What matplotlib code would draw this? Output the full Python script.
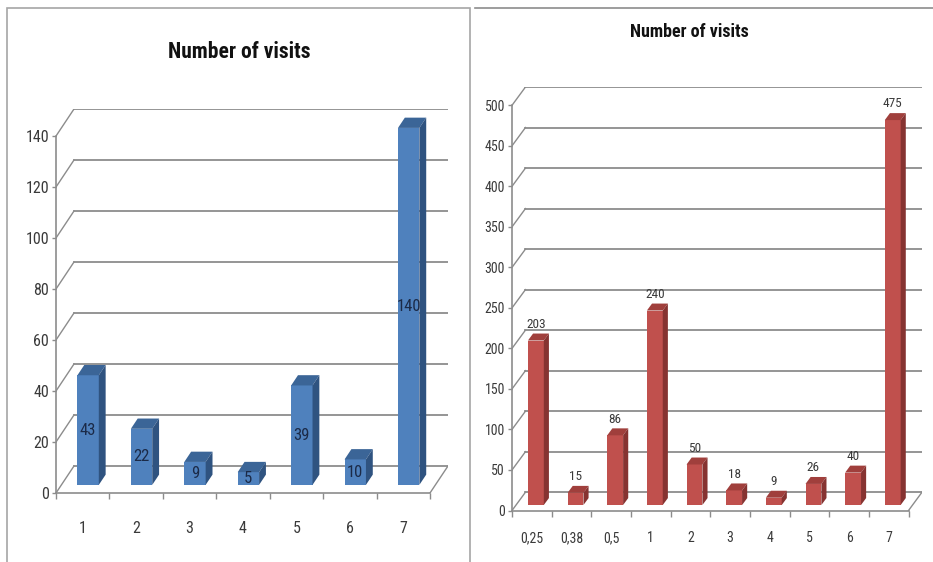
import numpy as np
import matplotlib
matplotlib.use("Agg")
import matplotlib.pyplot as plt
from matplotlib import font_manager as fm
from matplotlib.patches import Polygon, Rectangle
from matplotlib.lines import Line2D

W, H = 933, 562

# data
left_categories = ["1", "2", "3", "4", "5", "6", "7"]
left_values = [43, 22, 9, 5, 39, 10, 140]
left_yticks = [0, 20, 40, 60, 80, 100, 120, 140]

right_categories = ["0,25", "0,38", "0,5", "1", "2", "3", "4", "5", "6", "7"]
right_values = [203, 15, 86, 240, 50, 18, 9, 26, 40, 475]
right_yticks = [0, 50, 100, 150, 200, 250, 300, 350, 400, 450, 500]

# the original uses a narrow (Calibri-like) face; take a condensed one if present
fonts = fm.fontManager.ttflist
avail = {f.name for f in fonts}
STRETCH = "normal"
narrow = None
for name in ["Liberation Sans Narrow", "Roboto Condensed", "Open Sans Condensed",
             "Noto Sans Condensed", "Arial Narrow"]:
    if name in avail:
        narrow = name
        break
if narrow is None:
    for f in fonts:
        if f.stretch in ("condensed", "semi-condensed", "extra-condensed"):
            narrow = f.name
            STRETCH = f.stretch
            break
if narrow is None:
    narrow = "Liberation Sans"
plt.rcParams["font.family"] = [narrow, "DejaVu Sans"]
plt.rcParams["font.stretch"] = STRETCH
k = 1.0 if narrow != "Liberation Sans" else 0.85

GRID = "#8c8c8c"
TXT = "#3a3a3a"


def px_box(x0, y0, x1, y1):
    # pixel box (origin top-left) -> figure fraction [l, b, w, h]
    return [x0 / W, 1 - y1 / H, (x1 - x0) / W, (y1 - y0) / H]


def columns_3d(ax, labels, values, yticks, depth, colors, fs, xpad, inside):
    n = len(values)
    dx, dy = depth
    x = np.arange(n)
    ymax = yticks[-1]
    ax.set_xlim(-0.5, n - 0.5 + dx)
    ax.set_ylim(0, ymax + dy)

    # back wall + side wall lines
    for v in yticks:
        ax.plot([-0.5 + dx, n - 0.5 + dx], [v + dy, v + dy], color=GRID, lw=1.3, zorder=1)
        ax.plot([-0.5, -0.5 + dx], [v, v + dy], color=GRID, lw=1.0, zorder=1)
    ax.plot([n - 0.5, n - 0.5 + dx], [0, dy], color=GRID, lw=1.0, zorder=1)

    # columns: front face + top + side
    face, side, top = colors
    f0, bd, w = 0.3, 0.38, 0.4
    xc = x + f0 * dx
    base = f0 * dy
    ax.bar(xc, values, width=w, bottom=base, color=face, zorder=3)
    for xi, v in zip(xc, values):
        xl, xr, t = xi - w / 2, xi + w / 2, base + v
        ax.add_patch(Polygon([(xl, t), (xr, t), (xr + bd * dx, t + bd * dy),
                              (xl + bd * dx, t + bd * dy)],
                             facecolor=top, edgecolor="none", zorder=3))
        ax.add_patch(Polygon([(xr, base), (xr, t), (xr + bd * dx, t + bd * dy),
                              (xr + bd * dx, base + bd * dy)],
                             facecolor=side, edgecolor="none", zorder=3))
        if inside:
            ax.text(xi, base + v / 2, str(v), ha="center", va="center",
                    fontsize=fs + 0.5, color="#1b2a47", zorder=4)
        else:
            ax.annotate(str(v), (xi, t + bd * dy), xytext=(0, 2),
                        textcoords="offset points", ha="center", va="bottom",
                        fontsize=fs - 0.5, color=TXT, zorder=4)

    for s in ["top", "right"]:
        ax.spines[s].set_visible(False)
    ax.spines["left"].set_bounds(0, ymax)
    ax.spines["bottom"].set_bounds(-0.5, n - 0.5)
    for s in ["left", "bottom"]:
        ax.spines[s].set_color(GRID)
        ax.spines[s].set_linewidth(1.2)

    ax.set_yticks(yticks)
    ax.set_yticklabels([str(v) for v in yticks])
    ax.tick_params(axis="y", direction="out", length=3, width=1, color=GRID,
                   labelcolor=TXT, labelsize=fs, pad=2)
    ax.set_xticks(x)
    ax.set_xticklabels(labels)
    ax.set_xticks(np.arange(n + 1) - 0.5, minor=True)
    ax.tick_params(axis="x", which="major", length=0, pad=xpad,
                   labelcolor=TXT, labelsize=fs)
    ax.tick_params(axis="x", which="minor", direction="out", length=4.5,
                   width=1, color=GRID)
    ax.set_facecolor("none")


fig = plt.figure(figsize=(W / 100, H / 100), dpi=100)

ax1 = fig.add_axes(px_box(56, 109, 448, 493))
columns_3d(ax1, left_categories, left_values, left_yticks, (0.337, 10.6),
           ("#4f81bd", "#2f5380", "#3b6597"), 11.5 * k, 20, True)

ax2 = fig.add_axes(px_box(512, 87, 922, 510.5))
columns_3d(ax2, right_categories, right_values, right_yticks, (0.34, 22.6),
           ("#c0504d", "#863331", "#a03f3c"), 10 * k, 15, False)

fig.text(239 / W, 1 - 52 / H, "Number of visits", ha="center", va="center",
         fontsize=15.5 * k, fontweight="bold", color="#111111")
fig.text(689 / W, 1 - 32 / H, "Number of visits", ha="center", va="center",
         fontsize=13 * k, fontweight="bold", color="#111111")

# panel frames
fig.add_artist(Rectangle((7 / W, -0.1), (470 - 7) / W, 1.1 - 8 / H,
                         transform=fig.transFigure, fill=False,
                         edgecolor="#a6a6a6", lw=1.2))
fig.add_artist(Line2D([475 / W, 1], [1 - 8 / H, 1 - 8 / H],
                      transform=fig.transFigure, color="#8c8c8c", lw=1.2))

fig.savefig("out.png", dpi=100, facecolor="white")
